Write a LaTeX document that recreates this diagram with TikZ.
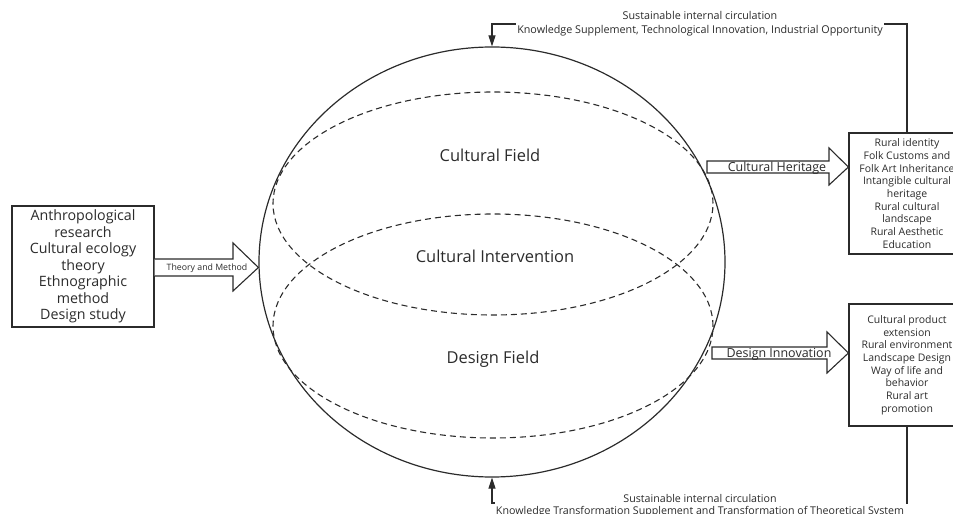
\documentclass[tikz,border=0pt]{standalone}
\usepackage{fontspec}
\setmainfont{Open Sans}
\usetikzlibrary{shapes.geometric,arrows.meta}
\definecolor{ink}{HTML}{2B2B2B}
\begin{document}
\begin{tikzpicture}[x=1bp,y=-1bp,
  every node/.style={text=ink},
  solidline/.style={draw=ink,line width=1.2bp},
  dashline/.style={draw=ink,line width=1.1bp,dash pattern=on 6bp off 4bp},
  fieldlbl/.style={font=\fontsize{16.5}{19}\selectfont},
  leftbox/.style={solidline,align=center,inner sep=0pt,minimum width=142bp,minimum height=121bp,font=\fontsize{14.3}{16.5}\selectfont},
  rightbox/.style={solidline,align=center,inner sep=0pt,minimum width=116bp,minimum height=121bp,font=\fontsize{10.5}{12.7}\selectfont},
  blk/.style={draw=ink,line width=1.1bp,fill=white,line join=miter},
  arrlbl/.style={inner sep=0pt},
  conn/.style={draw=ink,line width=1.1bp,-{Triangle[length=11bp,width=7bp]}},
  circlbl/.style={fill=white,align=center,inner sep=1.5pt,font=\fontsize{10.8}{13.8}\selectfont}
]
\useasboundingbox (0,0) rectangle (953,514);
\clip (0,0) rectangle (953,514);

% sphere and dashed ellipses
\node[ellipse,solidline,minimum width=466bp,minimum height=430bp,inner sep=0pt] (sphere) at (492,262) {};
\node[ellipse,dashline,minimum width=440bp,minimum height=223bp,inner sep=0pt] (upper) at (493,203.5) {};
\node[ellipse,dashline,minimum width=440bp,minimum height=224bp,inner sep=0pt] (lower) at (493,326) {};
\node[fieldlbl] (cf) at (490,155) {Cultural Field};
\node[fieldlbl] (ci) at (495,256) {Cultural Intervention};
\node[fieldlbl] (df) at (493,359) {Design Field};

% left box
\node[leftbox] (left) at (83,266.5) {Anthropological\\research\\Cultural ecology\\theory\\Ethnographic\\method\\Design study};

% right boxes
\node[rightbox] (r1) at (907,193.5) {Rural identity\\Folk Customs and\\Folk Art Inheritance\\Intangible cultural\\heritage\\Rural cultural\\landscape\\Rural Aesthetic\\Education};
\node[rightbox,minimum height=122bp] (r2) at (907,365) {Cultural product\\extension\\Rural environment\\Landscape Design\\Way of life and\\behavior\\Rural art\\promotion};

% block arrows
\draw[blk] (left.east |- 0,259) -- (233,259) -- (233,243) -- (sphere.west |- 0,267.5) -- (233,291) -- (233,276) -- (left.east |- 0,276);
\node[arrlbl,font=\fontsize{8.8}{10}\selectfont] (tm) at (207,268) {Theory and Method};

\draw[blk] (707,161) -- (829,161) -- (829,148) -- (r1.west |- 0,167) -- (829,185) -- (829,173) -- (707,173) -- cycle;
\node[arrlbl,font=\fontsize{12.5}{14}\selectfont] (ch) at (777,168) {Cultural Heritage};

\draw[blk] (712,347) -- (827,347) -- (827,332) -- (r2.west |- 0,353) -- (827,373) -- (827,359) -- (712,359) -- cycle;
\node[arrlbl,font=\fontsize{12.5}{14}\selectfont] (di) at (779,354) {Design Innovation};

% circulation connectors
\coordinate (topbar) at (0,24);
\coordinate (botbar) at (0,503);
\draw[conn] (r1.north) |- (sphere.north |- topbar) -- (sphere.north);
\draw[conn] (r2.south) |- (sphere.south |- botbar) -- (sphere.south);
\node[circlbl] (toplbl) at (700,24) {Sustainable internal circulation\\Knowledge Supplement, Technological Innovation, Industrial Opportunity};
\node[circlbl,font=\fontsize{10.7}{12.5}\selectfont] (botlbl) at (700,505.5) {Sustainable internal circulation\\Knowledge Transformation Supplement and Transformation of Theoretical System};
\end{tikzpicture}
\end{document}
